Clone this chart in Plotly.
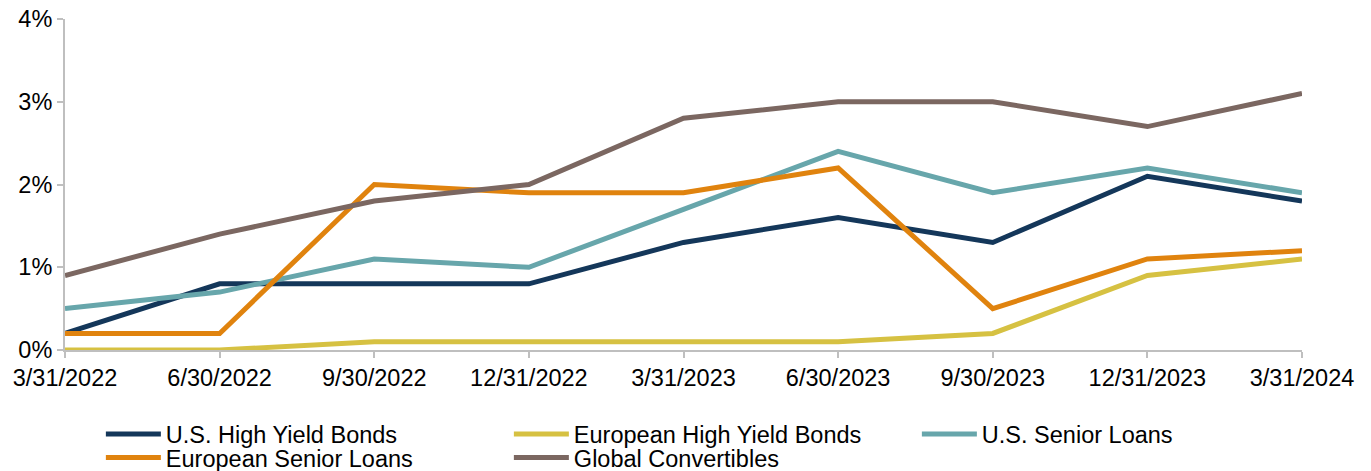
import plotly.graph_objects as go

dates = ["3/31/2022", "6/30/2022", "9/30/2022", "12/31/2022", "3/31/2023",
         "6/30/2023", "9/30/2023", "12/31/2023", "3/31/2024"]
us_hy = [0.2, 0.8, 0.8, 0.8, 1.3, 1.6, 1.3, 2.1, 1.8]
eu_hy = [0.0, 0.0, 0.1, 0.1, 0.1, 0.1, 0.2, 0.9, 1.1]
us_sl = [0.5, 0.7, 1.1, 1.0, 1.7, 2.4, 1.9, 2.2, 1.9]
eu_sl = [0.2, 0.2, 2.0, 1.9, 1.9, 2.2, 0.5, 1.1, 1.2]
gl_cv = [0.9, 1.4, 1.8, 2.0, 2.8, 3.0, 3.0, 2.7, 3.1]

series = [
    ("U.S. High Yield Bonds", us_hy, "#14375A", "legend"),
    ("European High Yield Bonds", eu_hy, "#D6C142", "legend"),
    ("U.S. Senior Loans", us_sl, "#67A6AB", "legend"),
    ("European Senior Loans", eu_sl, "#E0830E", "legend2"),
    ("Global Convertibles", gl_cv, "#7B6761", "legend2"),
]

fig = go.Figure()
for name, vals, color, lg in series:
    fig.add_trace(go.Scatter(x=dates, y=vals, name=name, mode="lines",
                             line=dict(color=color, width=5), legend=lg))

leg_common = dict(orientation="h", x=0.029, xanchor="left", yanchor="top",
                  entrywidth=338, font=dict(size=23.5), tracegroupgap=0,
                  itemwidth=55, bgcolor="rgba(0,0,0,0)")

fig.update_layout(
    width=1371, height=471,
    margin=dict(l=65, r=69, t=19, b=121, autoexpand=False),
    plot_bgcolor="white", paper_bgcolor="white",
    font=dict(family="Liberation Sans, Arial, sans-serif", size=23, color="#000"),
    showlegend=True,
    legend=dict(y=-0.188, **leg_common),
    legend2=dict(y=-0.259, **leg_common),
)
fig.update_xaxes(type="category", range=[0, 8], showgrid=False,
                 showline=True, linecolor="#BFBFBF", linewidth=2,
                 ticks="outside", ticklen=6, tickcolor="#BFBFBF", tickwidth=2,
                 tickfont=dict(size=23.5))
fig.update_yaxes(range=[0, 4], dtick=1, ticksuffix="%", showgrid=False,
                 showline=True, linecolor="#BFBFBF", linewidth=2,
                 ticks="outside", ticklen=6, tickcolor="#BFBFBF", tickwidth=2,
                 zeroline=False, tickfont=dict(size=23.5))

fig.write_html("out.html")
